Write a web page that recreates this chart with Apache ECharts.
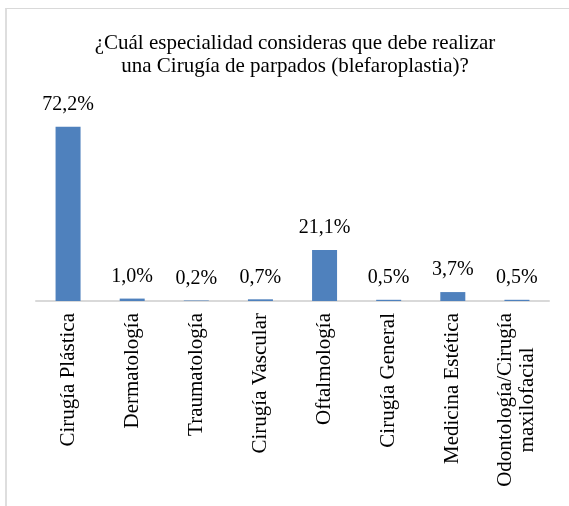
<!DOCTYPE html>
<html style="height: 100%">
   <head>
       <meta charset="utf-8">
   </head>
   <body style="height: 100%; margin: 0; background: #fff">
       <div id="container" style="width: 569px; height: 506px; position: absolute; left: 0; top: 0"></div>
       <div id="frame" style="position: absolute; left: 5px; top: 8px; width: 570px; height: 500px; border-left: 2px solid #dedede; border-top: 1px solid #d9d9d9; pointer-events: none"></div>
       <script type="text/javascript" src="https://cdn.jsdelivr.net/npm/echarts@6/dist/echarts.min.js"></script>
       <script type="text/javascript">
// data
var categories = ['Cirugía Plástica', 'Dermatología', 'Traumatología', 'Cirugía Vascular',
    'Oftalmología', 'Cirugía General', 'Medicina Estética', 'Odontología/Cirugía\nmaxilofacial'];
var percentages = [72.2, 1.0, 0.2, 0.7, 21.1, 0.5, 3.7, 0.5];
var titleText = '¿Cuál especialidad consideras que debe realizar\nuna Cirugía de parpados (blefaroplastia)?';

var serif = "'Liberation Serif', 'Times New Roman', serif";

var dom = document.getElementById("container");
var myChart = echarts.init(dom);
var option = {
    backgroundColor: '#fff',
    animation: false,
    title: {
        text: titleText,
        left: 290,
        top: 27,
        textAlign: 'center',
        textStyle: {
            fontFamily: serif,
            fontSize: 21,
            fontWeight: 'normal',
            color: '#000',
            lineHeight: 23
        }
    },
    grid: {
        left: 36,
        right: 20,
        top: 108,
        bottom: 205
    },
    xAxis: {
        type: 'category',
        data: categories,
        axisLine: {lineStyle: {color: '#d9d9d9', width: 2}},
        axisTick: {show: false},
        axisLabel: {
            interval: 0,
            rotate: 90,
            margin: 12,
            formatter: function (val) {
                return val.split('\n').map(function (s) { return '{c|' + s + '}'; }).join('\n');
            },
            rich: {
                c: {
                    align: 'center',
                    fontFamily: serif,
                    fontSize: 21,
                    lineHeight: 22,
                    color: '#000'
                }
            }
        }
    },
    yAxis: {
        type: 'value',
        min: 0,
        max: 80,
        show: false,
        splitLine: {show: false}
    },
    series: [{
        type: 'bar',
        data: percentages,
        barWidth: 25,
        itemStyle: {color: '#4f81bd'},
        label: {
            show: true,
            position: 'top',
            distance: 12,
            fontFamily: serif,
            fontSize: 20,
            color: '#000',
            formatter: function (p) {
                return p.value.toFixed(1).replace('.', ',') + '%';
            }
        }
    }]
};
myChart.setOption(option);
       </script>
   </body>
</html>
